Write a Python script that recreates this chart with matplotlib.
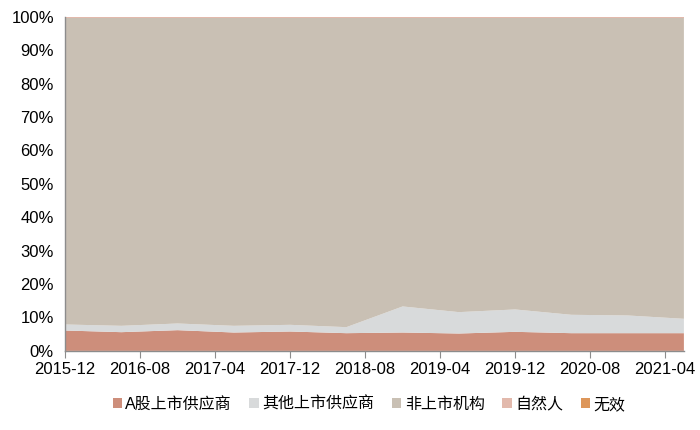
import numpy as np
import matplotlib
matplotlib.use("Agg")
import matplotlib.pyplot as plt
from matplotlib.patches import Patch

plt.rcParams['font.family'] = ['Liberation Sans', 'Noto Sans CJK SC', 'DejaVu Sans']

# Semiannual reporting dates
dates = ['2015-12', '2016-06', '2016-12', '2017-06', '2017-12', '2018-06',
         '2018-12', '2019-06', '2019-12', '2020-06', '2020-12', '2021-06']
tick_labels = ['2015-12', '2016-08', '2017-04', '2017-12', '2018-08',
               '2019-04', '2019-12', '2020-08', '2021-04']

# Shares in %
a_share = [6.1, 5.6, 6.2, 5.5, 5.8, 5.3, 5.5, 5.2, 5.7, 5.3, 5.3, 5.3]
other_listed = [1.8, 1.9, 2.0, 2.0, 2.0, 1.8, 7.8, 6.4, 6.7, 5.5, 5.3, 4.3]
natural_person = [0.3] * 12
invalid = [0.0] * 12
non_listed = [100 - a - o - n - i for a, o, n, i in
              zip(a_share, other_listed, natural_person, invalid)]

names = ['A股上市供应商', '其他上市供应商', '非上市机构', '自然人', '无效']
colors = ['#CD8E7B', '#D8DADB', '#C9C0B4', '#E2B9AC', '#DD965A']


def month_index(s, base='2015-12'):
    y, m = map(int, s.split('-'))
    by, bm = map(int, base.split('-'))
    return (y - by) * 12 + (m - bm)


x = np.array([month_index(d) for d in dates])
ticks = [month_index(t) for t in tick_labels]

fig = plt.figure(figsize=(7, 4.3), dpi=100)
ax = fig.add_axes([0.093, 0.184, 0.884, 0.777])

series = [a_share, other_listed, non_listed, natural_person, invalid]
ax.stackplot(x, *series, colors=colors, linewidth=0)

ax.set_xlim(0, 66)
ax.set_ylim(0, 100)
ax.set_yticks(np.arange(0, 101, 10))
ax.set_yticklabels([f'{v}%' for v in range(0, 101, 10)], fontsize=12)
ax.set_xticks(ticks)
ax.set_xticklabels(tick_labels, fontsize=12)

for side in ['top', 'right']:
    ax.spines[side].set_visible(False)
for side in ['left', 'bottom']:
    ax.spines[side].set_color('#8c8c8c')
    ax.spines[side].set_linewidth(1)
ax.tick_params(axis='y', length=0, pad=8)
ax.tick_params(axis='x', length=5, color='#8c8c8c', direction='out', pad=3)

handles = [Patch(facecolor=c, edgecolor='none') for c in colors]
fig.legend(handles, names, loc='center', bbox_to_anchor=(0.527, 0.06), ncol=5,
           frameon=False, fontsize=11.5, handlelength=0.6, handleheight=0.6,
           handletextpad=0.2, columnspacing=1.1)

fig.savefig('out.png', dpi=100)
